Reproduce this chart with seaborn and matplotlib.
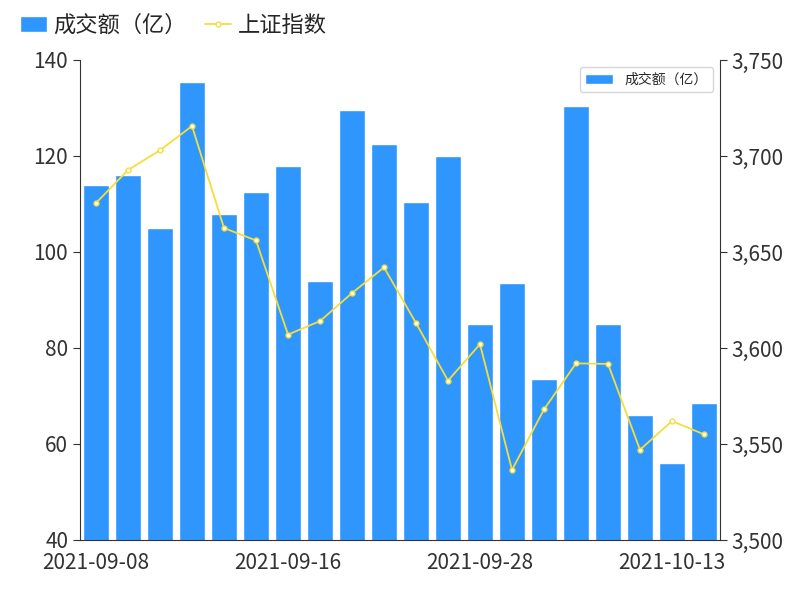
import matplotlib
matplotlib.use("Agg")
import matplotlib.pyplot as plt
import matplotlib.ticker as mticker
import pandas as pd
import seaborn as sns

dates = ["2021-09-08", "2021-09-09", "2021-09-10", "2021-09-13", "2021-09-14",
         "2021-09-15", "2021-09-16", "2021-09-17", "2021-09-22", "2021-09-23",
         "2021-09-24", "2021-09-27", "2021-09-28", "2021-09-29", "2021-09-30",
         "2021-10-08", "2021-10-11", "2021-10-12", "2021-10-13", "2021-10-14"]
turnover = [114, 116, 105, 135.5, 108, 112.5, 118, 94, 129.5, 122.5,
            110.5, 120, 85, 93.5, 73.5, 130.5, 85, 66, 56, 68.5]
index_sh = [3675.5, 3692.7, 3703, 3715.6, 3662.5, 3656, 3607, 3614, 3628.6, 3642,
            3613, 3583, 3602, 3536.5, 3568, 3592, 3591.7, 3547, 3562, 3555]

sns.set_style("white")
plt.rcParams["font.family"] = ["Noto Sans CJK SC", "DejaVu Sans"]

df = pd.DataFrame({"date": dates, "turnover": turnover, "index": index_sh})

fig = plt.figure(figsize=(8, 6), dpi=100)
ax = fig.add_axes([0.1, 0.1, 0.8, 0.8])
sns.barplot(data=df, x="date", y="turnover", color="#2e96fc", saturation=1,
            width=0.82, ax=ax, label="成交额（亿）")
ax.set_ylim(40, 140)
ax.set_xlim(-0.5, len(dates) - 0.5)
ax.set_xlabel("")
ax.set_ylabel("")
ax.set_xticks([0, 6, 12, 18])
ax.set_xticklabels([dates[i] for i in [0, 6, 12, 18]])

ax2 = ax.twinx()
ax2.plot(range(len(dates)), index_sh, color="#f5de3c", lw=1.3, marker="o",
         ms=3.5, mfc="white", label="上证指数")
ax2.set_ylim(3500, 3750)
ax2.yaxis.set_major_formatter(mticker.StrMethodFormatter("{x:,.0f}"))

for a in (ax, ax2):
    a.tick_params(labelsize=15, colors="#333333", length=5, color="#333333")
    for s in a.spines.values():
        s.set_visible(False)
ax.spines["left"].set_visible(True)
ax2.spines["right"].set_visible(True)
ax.spines["bottom"].set_visible(True)
for s in ("left", "bottom"):
    ax.spines[s].set_color("#333333")
ax2.spines["right"].set_color("#333333")

h1, l1 = ax.get_legend_handles_labels()
h2, l2 = ax2.get_legend_handles_labels()
fig.legend(h1 + h2, l1 + l2, loc="upper left", bbox_to_anchor=(0.0, 1.01),
           ncol=2, frameon=False, fontsize=16, handlelength=1.2,
           columnspacing=0.8, handletextpad=0.3)

fig.savefig("out.png", dpi=100)
